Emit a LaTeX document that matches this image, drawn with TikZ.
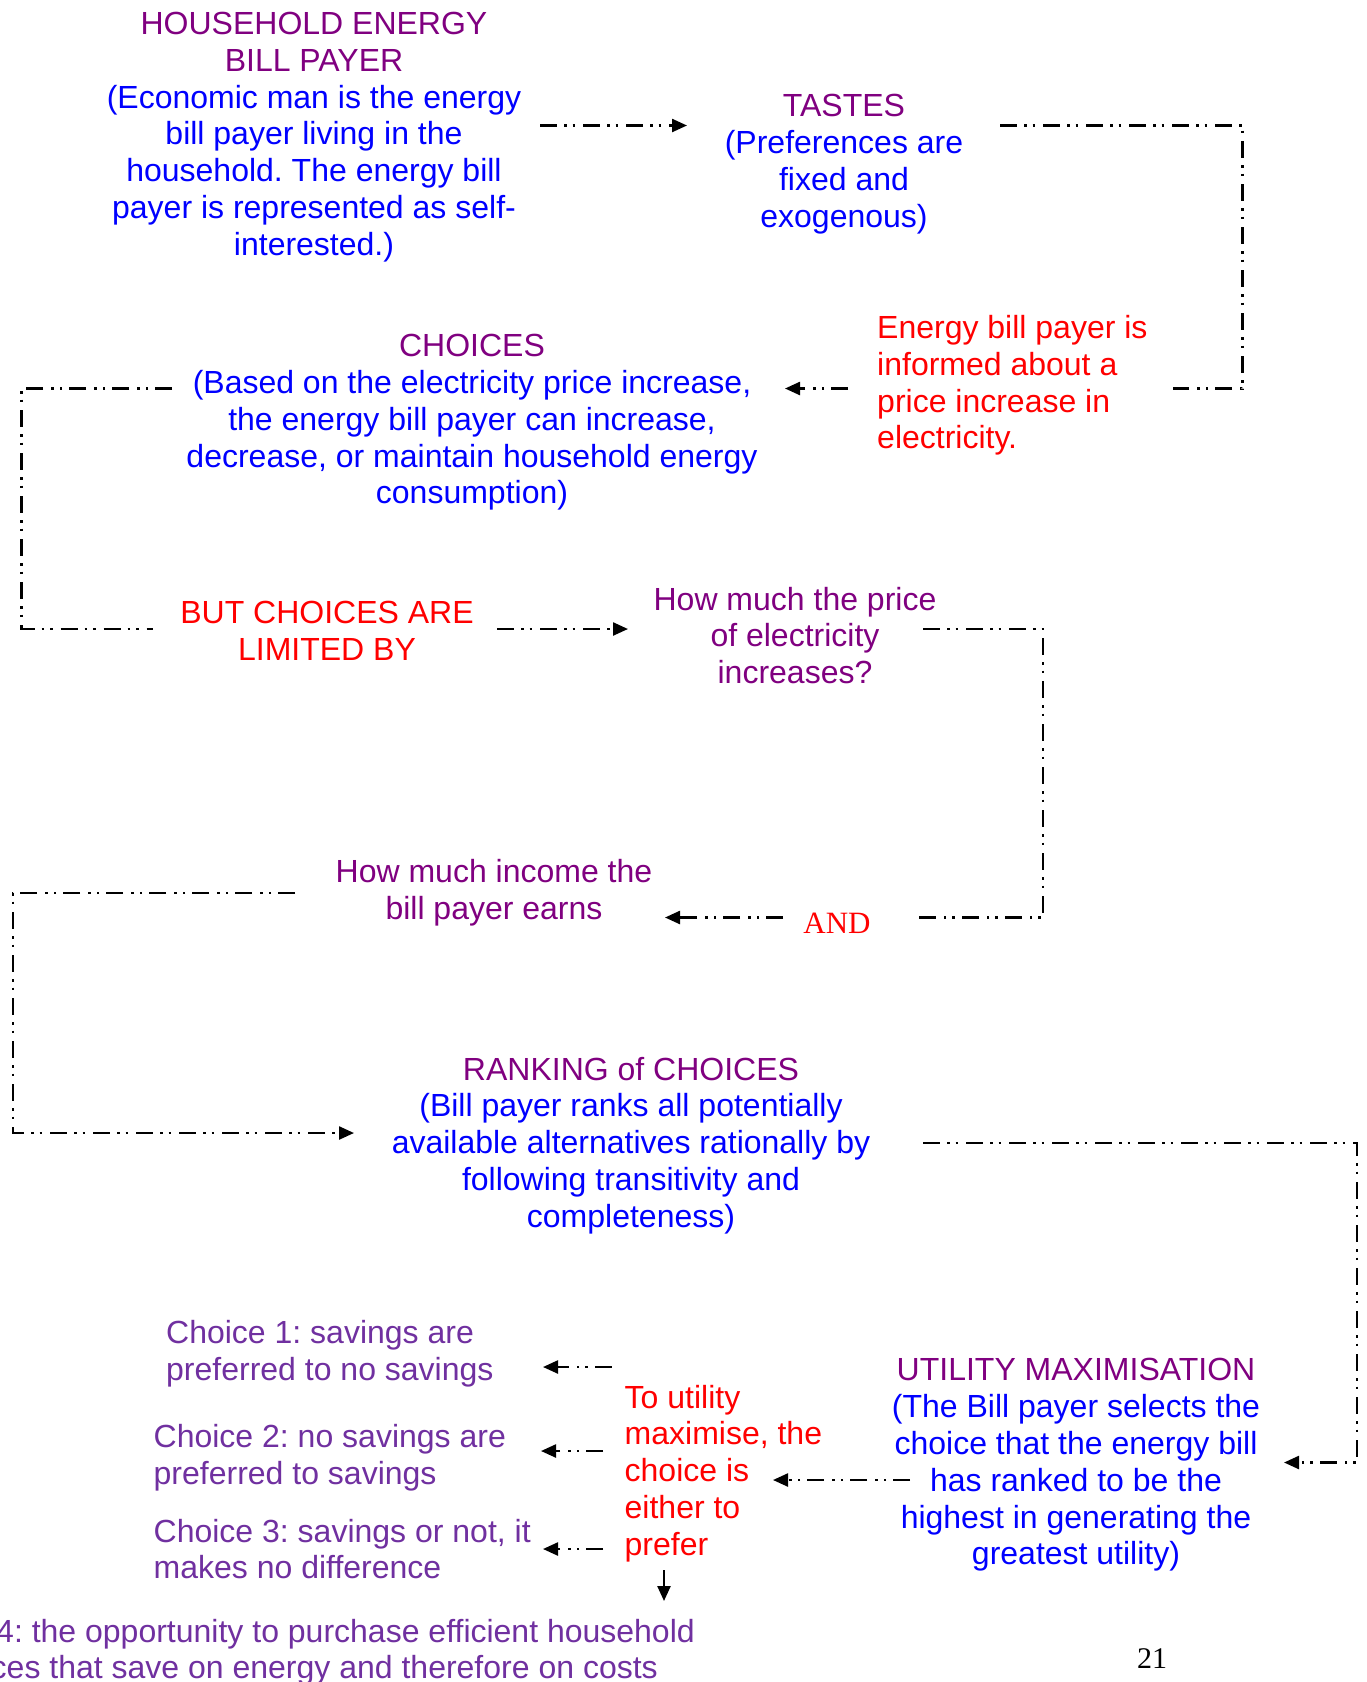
\documentclass[tikz,border=0pt]{standalone}
\usepackage{fontspec}
\setmainfont{Liberation Sans}
\newfontfamily\serifrm{Liberation Serif}
\usetikzlibrary{arrows.meta}
\definecolor{hdpurple}{HTML}{800080}
\definecolor{txblue}{HTML}{0000FF}
\definecolor{txred}{HTML}{FF0000}
\definecolor{chpurple}{HTML}{7030A0}
\frenchspacing

\tikzset{
  txt/.style={font=\fontsize{32}{36.8}\selectfont, inner sep=0pt, align=center, yshift=-3pt},
  conn/.style={line width=2.4pt, dash pattern=on 17pt off 7pt on 2.5pt off 6pt on 2.5pt off 8pt},
  arr/.style={conn, -{Triangle[length=15pt,width=13pt]}},
}

\begin{document}
\begin{tikzpicture}[x=1pt,y=-1pt]
\clip (0,0) rectangle (1366,1682);
\fill[white] (0,0) rectangle (1366,1682);

% ---- text blocks ----
\node[txt, text=txblue] (hh) at (314,134) {\textcolor{hdpurple}{HOUSEHOLD ENERGY}\\\textcolor{hdpurple}{BILL PAYER}\\(Economic man is the energy\\bill payer living in the\\household. The energy bill\\payer is represented as self-\\interested.)};
\node[txt, text=txblue] (tastes) at (844,161) {\textcolor{hdpurple}{TASTES}\\(Preferences are\\fixed and\\exogenous)};
\node[txt, text=txred, align=left, anchor=west] (inform) at (877,382.5) {Energy bill payer is\\informed about a\\price increase in\\electricity.};
\node[txt, text=txblue] (choices) at (472,419.5) {\textcolor{hdpurple}{CHOICES}\\(Based on the electricity price increase,\\the energy bill payer can increase,\\decrease, or maintain household energy\\consumption)};
\node[txt, text=txred] (limited) at (327,628) {BUT CHOICES ARE\\LIMITED BY};
\node[txt, text=hdpurple] (price) at (795,632.5) {How much the price\\of electricity\\increases?};
\node[txt, text=txred, font=\serifrm\fontsize{31}{36}\selectfont] (and) at (837,920) {AND};
\node[txt, text=hdpurple] (income) at (494,890) {How much income the\\bill payer earns};
\node[txt, text=txblue] (ranking) at (631,1142.5) {\textcolor{hdpurple}{RANKING of CHOICES}\\(Bill payer ranks all potentially\\available alternatives rationally by\\following transitivity and\\completeness)};
\node[txt, text=txblue] (utility) at (1076,1462) {\textcolor{hdpurple}{UTILITY MAXIMISATION}\\(The Bill payer selects the\\choice that the energy bill\\has ranked to be the\\highest in generating the\\greatest utility)};
\node[txt, text=txred, align=left, anchor=west] (maxim) at (624.5,1470.5) {To utility\\maximise, the\\choice is\\either to\\prefer};
\node[txt, text=chpurple, align=left, anchor=west] (ch1) at (166,1351) {Choice 1: savings are\\preferred to no savings};
\node[txt, text=chpurple, align=left, anchor=west] (ch2) at (153.5,1455) {Choice 2: no savings are\\preferred to savings};
\node[txt, text=chpurple, align=left, anchor=west] (ch3) at (153.5,1546) {Choice 3: savings or not, it\\makes no difference};
\node[txt, text=chpurple, anchor=east] (ch4a) at (695,1631) {4: the opportunity to purchase efficient household};
\node[txt, text=chpurple, anchor=east] (ch4b) at (658,1667.5) {ces that save on energy and therefore on costs};
\node[txt, font=\serifrm\fontsize{30}{34}\selectfont] (pagenum) at (1152,1655.5) {21};

% ---- connector end points ----
\coordinate (hhR) at (540,125.5);      \coordinate (tastesL) at (687,125.5);
\coordinate (tastesR) at (1000,125.5); \coordinate (c1) at (1242.5,125.5);
\coordinate (c2) at (1242.5,388.5);    \coordinate (informR) at (1173,388.5);
\coordinate (informL) at (848,388.5);  \coordinate (choicesR) at (785,388.5);
\coordinate (choicesL) at (172,388.5); \coordinate (c3) at (21.5,388.5);
\coordinate (c4) at (21.5,629);        \coordinate (limitedL) at (153,629);
\coordinate (limitedR) at (497,629);   \coordinate (priceL) at (628,629);
\coordinate (priceR) at (923,629);     \coordinate (c5) at (1043,629);
\coordinate (c6) at (1043,917.5);      \coordinate (andR) at (912,917.5);
\coordinate (andL) at (783,917.5);     \coordinate (incomeR) at (665,917.5);
\coordinate (incomeL) at (295,893);    \coordinate (c7) at (13,893);
\coordinate (c8) at (13,1133);         \coordinate (rankingL) at (354,1133);
\coordinate (rankingR) at (923,1143);  \coordinate (c9) at (1357,1143);
\coordinate (c10) at (1357,1462.5);    \coordinate (utilityR) at (1284,1462.5);
\coordinate (utilityL) at (910,1480);  \coordinate (maximR) at (773,1480);
\coordinate (m1) at (611.5,1367);      \coordinate (ch1R) at (543,1367);
\coordinate (m2) at (603,1451);        \coordinate (ch2R) at (541,1451);
\coordinate (m3) at (603,1549);        \coordinate (ch3R) at (543,1549);
\coordinate (m4) at (664,1570);        \coordinate (ch4T) at (664,1601);

% ---- connectors ----
\draw[arr] (hhR) -- (tastesL);
\draw[conn] (tastesR) -- (c1) -- (c2) -- (informR);
\draw[arr] (informL) -- (choicesR);
\draw[conn] (choicesL) -- (c3) -- (c4) -- (limitedL);
\draw[arr] (limitedR) -- (priceL);
\draw[conn] (priceR) -- (c5) -- (c6) -- (andR);
\draw[arr] (andL) -- (incomeR);
\draw[arr] (incomeL) -- (c7) -- (c8) -- (rankingL);
\draw[arr] (rankingR) -- (c9) -- (c10) -- (utilityR);
\draw[arr] (utilityL) -- (maximR);
\draw[arr] (m1) -- (ch1R);
\draw[arr] (m2) -- (ch2R);
\draw[arr] (m3) -- (ch3R);
\draw[line width=2.4pt, -{Triangle[length=15pt,width=13pt]}] (m4) -- (ch4T);
\end{tikzpicture}
\end{document}
